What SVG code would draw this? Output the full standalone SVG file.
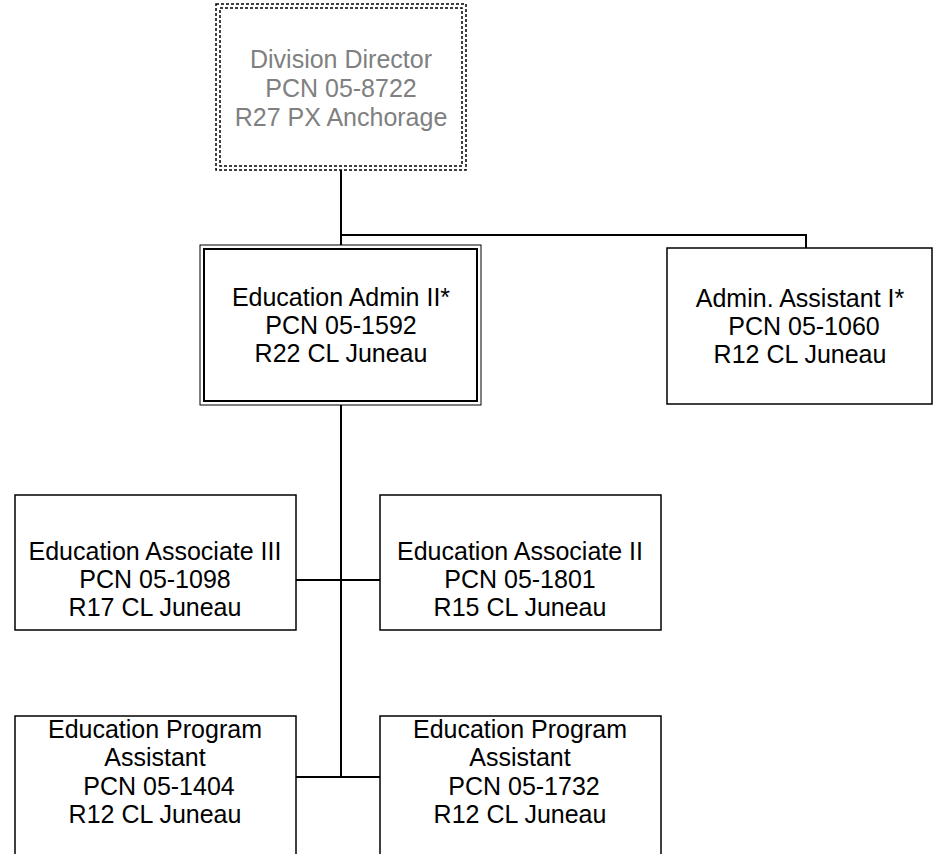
<svg xmlns="http://www.w3.org/2000/svg" width="935" height="854" viewBox="0 0 935 854">
<style>
  .box { fill: #ffffff; stroke: #000000; stroke-width: 1.5; }
  .dash { fill: none; stroke: #000000; stroke-width: 1.5; stroke-dasharray: 3 2; }
  .t { font-family: "Liberation Sans", Arial, sans-serif; font-size: 25px; fill: #000000; text-anchor: middle; }
  .g { fill: #808080; }
  .conn { fill: none; stroke: #000000; stroke-width: 2; }
</style>
<rect width="935" height="854" fill="#ffffff"/>
<g id="connectors">
  <polyline class="conn" points="341,170 341,235 806,235 806,248"/>
  <line class="conn" x1="341" y1="235" x2="341" y2="245"/>
  <line class="conn" x1="341" y1="405" x2="341" y2="777"/>
  <line class="conn" x1="296" y1="580" x2="380" y2="580"/>
  <line class="conn" x1="296" y1="777" x2="380" y2="777"/>
</g>
<g id="director">
  <rect x="216" y="4" width="250" height="166" fill="#ffffff" stroke="none"/>
  <rect class="dash" x="216" y="4" width="250" height="166"/>
  <rect class="dash" x="220" y="8" width="242" height="158"/>
  <text class="t g" x="341" y="68">Division Director</text>
  <text class="t g" x="341" y="97">PCN 05-8722</text>
  <text class="t g" x="341" y="126">R27 PX Anchorage</text>
</g>
<g id="edu-admin">
  <rect x="200" y="245" width="281" height="160" fill="#ffffff" stroke="#000000" stroke-width="1"/>
  <rect x="204" y="249" width="273" height="152" fill="none" stroke="#000000" stroke-width="2"/>
  <text class="t" x="341" y="306">Education Admin II*</text>
  <text class="t" x="341" y="334">PCN 05-1592</text>
  <text class="t" x="341" y="362">R22 CL Juneau</text>
</g>
<g id="admin-assistant">
  <rect class="box" x="667" y="248" width="265" height="156"/>
  <text class="t" x="800" y="307">Admin. Assistant I*</text>
  <text class="t" x="804" y="335">PCN 05-1060</text>
  <text class="t" x="800" y="363">R12 CL Juneau</text>
</g>
<g id="edu-assoc-3">
  <rect class="box" x="15" y="495" width="281" height="135"/>
  <text class="t" x="155" y="560">Education Associate III</text>
  <text class="t" x="155" y="588">PCN 05-1098</text>
  <text class="t" x="155" y="616">R17 CL Juneau</text>
</g>
<g id="edu-assoc-2">
  <rect class="box" x="380" y="495" width="281" height="135"/>
  <text class="t" x="520" y="560">Education Associate II</text>
  <text class="t" x="520" y="588">PCN 05-1801</text>
  <text class="t" x="520" y="616">R15 CL Juneau</text>
</g>
<g id="edu-prog-asst-1">
  <rect class="box" x="15" y="716" width="281" height="150"/>
  <text class="t" x="155" y="738">Education Program</text>
  <text class="t" x="155" y="766">Assistant</text>
  <text class="t" x="159" y="795">PCN 05-1404</text>
  <text class="t" x="155" y="823">R12 CL Juneau</text>
</g>
<g id="edu-prog-asst-2">
  <rect class="box" x="380" y="716" width="281" height="150"/>
  <text class="t" x="520" y="738">Education Program</text>
  <text class="t" x="520" y="766">Assistant</text>
  <text class="t" x="524" y="795">PCN 05-1732</text>
  <text class="t" x="520" y="823">R12 CL Juneau</text>
</g>
</svg>
